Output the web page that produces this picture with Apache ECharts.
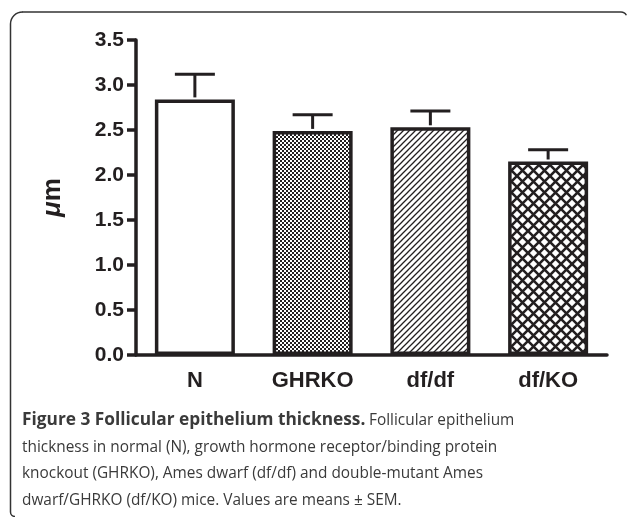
<!DOCTYPE html>
<html>
<head>
<meta charset="utf-8">
<script src="https://cdn.jsdelivr.net/npm/echarts@6/dist/echarts.min.js"></script>
<style>
  html, body { margin: 0; padding: 0; background: #fff; }
  #main { width: 629px; height: 517px; }
</style>
</head>
<body>
<div id="main"></div>
<script>
// data
var groups = ['N', 'GHRKO', 'df/df', 'df/KO'];
var means = [2.84, 2.49, 2.53, 2.15];
var sem = [0.28, 0.18, 0.18, 0.13];
var yTicks = ['0.0', '0.5', '1.0', '1.5', '2.0', '2.5', '3.0', '3.5'];

// fill patterns
function makeTile(size, draw) {
    var c = document.createElement('canvas');
    c.width = size; c.height = size;
    var ctx = c.getContext('2d');
    ctx.fillStyle = '#fff';
    ctx.fillRect(0, 0, size, size);
    draw(ctx, size);
    return c;
}
var checker = makeTile(4, function (ctx) {
    ctx.fillStyle = '#231f20';
    ctx.fillRect(0, 0, 2, 2);
    ctx.fillRect(2, 2, 2, 2);
});
var hatch = makeTile(6, function (ctx, s) {
    ctx.strokeStyle = '#231f20';
    ctx.lineWidth = 1.3;
    ctx.beginPath();
    ctx.moveTo(-1, s + 1); ctx.lineTo(s + 1, -1);
    ctx.moveTo(-1, 1); ctx.lineTo(1, -1);
    ctx.moveTo(s - 1, s + 1); ctx.lineTo(s + 1, s - 1);
    ctx.stroke();
});
var cross = makeTile(11, function (ctx, s) {
    ctx.strokeStyle = '#231f20';
    ctx.lineWidth = 2.6;
    ctx.beginPath();
    ctx.moveTo(-2, -2); ctx.lineTo(s + 2, s + 2);
    ctx.moveTo(-2, s + 2); ctx.lineTo(s + 2, -2);
    ctx.stroke();
});
var fills = ['#ffffff',
    { image: checker, repeat: 'repeat' },
    { image: hatch, repeat: 'repeat' },
    { image: cross, repeat: 'repeat' }];

var chart = echarts.init(document.getElementById('main'));
var ink = '#231f20';
var frame = { stroke: '#333', lineWidth: 1.5, fill: null };
var capColor = '#3a3a3a';

var option = {
    animation: false,
    backgroundColor: '#fff',
    grid: { left: 136, right: 22, top: 40, bottom: 162 },
    xAxis: {
        type: 'category',
        data: groups,
        axisLine: { lineStyle: { color: ink, width: 3.5 } },
        axisTick: { show: false },
        axisLabel: {
            color: ink, fontFamily: 'Liberation Sans', fontWeight: 'bold',
            fontSize: 22, margin: 15
        }
    },
    yAxis: {
        type: 'value',
        min: 0, max: 3.5, interval: 0.5,
        name: '{mu|μ}{m|m}',
        nameLocation: 'middle',
        nameGap: 70,
        nameRotate: 90,
        nameTextStyle: {
            rich: {
                mu: { fontFamily: 'Liberation Sans', fontStyle: 'italic', fontWeight: 'bold', fontSize: 26, color: ink },
                m: { fontFamily: 'Liberation Sans', fontWeight: 'bold', fontSize: 26, color: ink }
            }
        },
        axisLine: { show: true, lineStyle: { color: ink, width: 3.5 } },
        axisTick: { show: true, inside: false, length: 9, lineStyle: { color: ink, width: 3.5 } },
        splitLine: { show: false },
        axisLabel: {
            color: ink, fontFamily: 'Liberation Sans', fontWeight: 'bold',
            fontSize: 21, margin: 12,
            formatter: function (v) { return yTicks[Math.round(v * 2)]; }
        }
    },
    series: [
        {
            type: 'bar',
            barWidth: 80,
            data: means.map(function (v, i) {
                return { value: v, itemStyle: { color: fills[i] } };
            }),
            itemStyle: { borderColor: ink, borderWidth: 3.5 },
            z: 3
        },
        {
            type: 'custom',
            data: means.map(function (v, i) { return [i, v, v + sem[i]]; }),
            renderItem: function (params, api) {
                var base = api.coord([api.value(0), api.value(1)]);
                var top = api.coord([api.value(0), api.value(2)]);
                var half = 20;
                var st = { stroke: ink, lineWidth: 3 };
                return {
                    type: 'group',
                    children: [
                        { type: 'line', shape: { x1: base[0], y1: base[1] - 2, x2: top[0], y2: top[1] }, style: st },
                        { type: 'line', shape: { x1: top[0] - half, y1: top[1], x2: top[0] + half, y2: top[1] }, style: st }
                    ]
                };
            },
            z: 2
        }
    ],
    graphic: [
        { type: 'line', shape: { x1: 10.5, y1: 24, x2: 10.5, y2: 512 }, style: frame },
        { type: 'line', shape: { x1: 22, y1: 12, x2: 621, y2: 12 }, style: frame },
        { type: 'arc', shape: { cx: 22.5, cy: 24, r: 12, startAngle: Math.PI, endAngle: Math.PI * 1.5 }, style: frame },
        { type: 'arc', shape: { cx: 621, cy: 18, r: 6, startAngle: Math.PI * 1.5, endAngle: Math.PI * 1.85 }, style: frame },
        { type: 'arc', shape: { cx: 15, cy: 512, r: 4.5, startAngle: Math.PI * 0.5, endAngle: Math.PI }, style: frame },
        {
            type: 'text', x: 22, y: 420,
            style: {
                text: 'Figure 3 Follicular epithelium thickness.',
                fontFamily: 'Open Sans', fontWeight: 'bold', fontSize: 17.3,
                fill: capColor, verticalAlign: 'middle'
            }
        },
        {
            type: 'text', x: 369, y: 420, scaleX: 0.905,
            style: {
                text: 'Follicular epithelium',
                fontFamily: 'Open Sans', fontSize: 17,
                fill: capColor, verticalAlign: 'middle'
            }
        },
        {
            type: 'text', x: 22, y: 434, scaleX: 0.905,
            style: {
                text: 'thickness in normal (N), growth hormone receptor/binding protein\nknockout (GHRKO), Ames dwarf (df/df) and double-mutant Ames\ndwarf/GHRKO (df/KO) mice. Values are means ± SEM.',
                fontFamily: 'Open Sans', fontSize: 17, lineHeight: 26.3,
                fill: capColor, verticalAlign: 'top'
            }
        }
    ]
};
chart.setOption(option);
</script>
</body>
</html>
